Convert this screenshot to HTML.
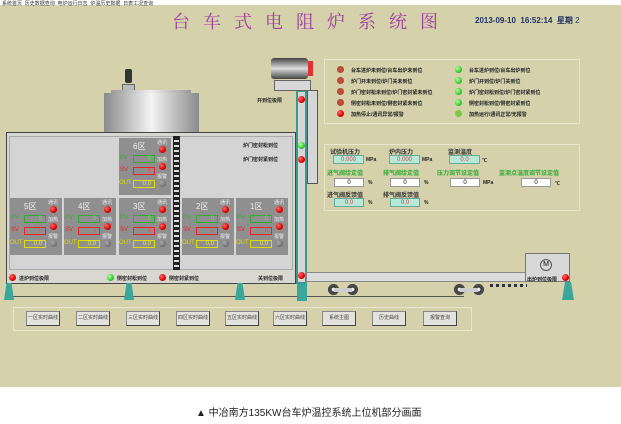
<!DOCTYPE html>
<html><head><meta charset="utf-8"><style>
*{margin:0;padding:0;box-sizing:border-box}
body{width:621px;height:424px;background:#fff;position:relative;overflow:hidden;font-family:"Liberation Sans","Noto Sans CJK SC",sans-serif}
div,span{position:absolute}
.bg{left:0;top:5px;width:621px;height:382px;background:#d4d1ab}
.t{font-size:5px;color:#222;white-space:nowrap;font-weight:bold}
.zone{background:#8f8f8f;width:52px;height:57px}
.zone .n{color:#eee;font-size:8px;left:14px;top:3px}
.zone .l{font-size:5px;color:#eee;left:38px}
.dot{width:7px;height:7px;border-radius:50%}
.r{background:radial-gradient(circle at 35% 35%,#ff6a6a,#d00 60%,#800)}
.g{background:radial-gradient(circle at 35% 35%,#b6ff9a,#3c3 60%,#171)}
.gr{background:radial-gradient(circle at 35% 35%,#aaa,#555)}
.pv,.sv,.out{height:8px;width:22px;font-size:6px;text-align:right;padding-right:3px;line-height:6px}
.pv{border:1px solid #3a3;color:#5e5}
.sv{border:1px solid #e22;color:#f44}
.out{border:1px solid #dd0;color:#ee4}
.btn{top:311px;width:34px;height:15px;background:#e4e2dc;border:1px solid #888;border-right-color:#444;border-bottom-color:#444;font-size:5px;color:#444;text-align:center;line-height:13px}
.leg{width:10px;height:17px;background:#3aa79a;clip-path:polygon(25% 0,75% 0,100% 100%,0 100%)}
.wh{width:11px;height:11px;border-radius:50%;background:radial-gradient(circle,#eee 20%,#333 30%,#555 60%,#222 70%);top:284px}
.sd{font-size:5px;color:#222;font-weight:bold;white-space:nowrap}
.box{background:#b8e8d8;border:1px solid #6a9;height:9px;font-size:6px;color:#c44;text-align:center;line-height:8px}
.wbox{background:#fff;border:1px solid #999;height:9px;font-size:6px;text-align:center;line-height:8px}
.gl{font-size:6px;color:#3a3;font-weight:bold;white-space:nowrap}
.bl{font-size:6px;color:#333;font-weight:bold;white-space:nowrap}
</style></head><body>
<div class="bg"></div>
<div class="t" style="left:2px;top:0;font-weight:normal;color:#333">系统首页 &nbsp;历史数据查询 &nbsp;电炉运行日志 &nbsp;炉温历史数据 &nbsp;日表工况查询</div>
<div style="left:172px;top:8px;font-size:18px;color:#a040a0;letter-spacing:13px;font-family:'Liberation Serif','Noto Serif CJK SC',serif;white-space:nowrap">台车式电阻炉系统图</div>
<div style="left:475px;top:15px;font-size:8px;font-weight:bold;color:#223366;white-space:nowrap">2013-09-10 &nbsp;16:52:14 &nbsp;星期 <span style="position:static;font-weight:normal">2</span></div>

<div style="left:125px;top:69px;width:7px;height:14px;background:#333;border-radius:2px"></div>
<div style="left:122px;top:84px;width:13px;height:8px;background:#bbb;border:1px solid #666"></div>
<div style="left:111px;top:90px;width:80px;height:4px;background:linear-gradient(90deg,#999,#eee,#999)"></div>
<div style="left:104px;top:93px;width:95px;height:40px;background:linear-gradient(90deg,#8a8a8a,#f4f4f4 50%,#8a8a8a)"></div>

<div style="left:6px;top:132px;width:290px;height:152px;background:#d8d8d0;border:1px solid #444"></div>
<div style="left:9px;top:136px;width:284px;height:134px;background:#d4d4d4;border:1px solid #aaa"></div>
<div style="left:173px;top:136px;width:7px;height:134px;background:repeating-linear-gradient(#222 0 3px,#ddd 3px 5px);border:1px solid #222"></div>

<div class="zone" style="left:119px;top:138px"><span class="n">6区</span><span class="l" style="top:1px">通讯</span><span class="dot r" style="left:40px;top:8px"></span><span class="l" style="top:18px">加热</span><span class="dot r" style="left:40px;top:25px"></span><span class="l" style="top:35px">报警</span><span class="dot gr" style="left:40px;top:42px"></span><span style="left:1px;top:17px;font-size:6px;color:#3a3">PV</span><span class="pv" style="left:14px;top:17px">0</span><span style="left:1px;top:29px;font-size:6px;color:#e22">SV</span><span class="sv" style="left:14px;top:29px">0</span><span style="left:0;top:42px;font-size:6px;color:#dd0">OUT</span><span class="out" style="left:14px;top:42px">0.0</span></div>
<div class="zone" style="left:10px;top:198px"><span class="n">5区</span><span class="l" style="top:1px">通讯</span><span class="dot r" style="left:40px;top:8px"></span><span class="l" style="top:18px">加热</span><span class="dot r" style="left:40px;top:25px"></span><span class="l" style="top:35px">报警</span><span class="dot gr" style="left:40px;top:42px"></span><span style="left:1px;top:17px;font-size:6px;color:#3a3">PV</span><span class="pv" style="left:14px;top:17px">0</span><span style="left:1px;top:29px;font-size:6px;color:#e22">SV</span><span class="sv" style="left:14px;top:29px">0</span><span style="left:0;top:42px;font-size:6px;color:#dd0">OUT</span><span class="out" style="left:14px;top:42px">0.0</span></div>
<div class="zone" style="left:64px;top:198px"><span class="n">4区</span><span class="l" style="top:1px">通讯</span><span class="dot r" style="left:40px;top:8px"></span><span class="l" style="top:18px">加热</span><span class="dot r" style="left:40px;top:25px"></span><span class="l" style="top:35px">报警</span><span class="dot gr" style="left:40px;top:42px"></span><span style="left:1px;top:17px;font-size:6px;color:#3a3">PV</span><span class="pv" style="left:14px;top:17px">0</span><span style="left:1px;top:29px;font-size:6px;color:#e22">SV</span><span class="sv" style="left:14px;top:29px">0</span><span style="left:0;top:42px;font-size:6px;color:#dd0">OUT</span><span class="out" style="left:14px;top:42px">0.0</span></div>
<div class="zone" style="left:119px;top:198px"><span class="n">3区</span><span class="l" style="top:1px">通讯</span><span class="dot r" style="left:40px;top:8px"></span><span class="l" style="top:18px">加热</span><span class="dot r" style="left:40px;top:25px"></span><span class="l" style="top:35px">报警</span><span class="dot gr" style="left:40px;top:42px"></span><span style="left:1px;top:17px;font-size:6px;color:#3a3">PV</span><span class="pv" style="left:14px;top:17px">0</span><span style="left:1px;top:29px;font-size:6px;color:#e22">SV</span><span class="sv" style="left:14px;top:29px">0</span><span style="left:0;top:42px;font-size:6px;color:#dd0">OUT</span><span class="out" style="left:14px;top:42px">0.0</span></div>
<div class="zone" style="left:182px;top:198px"><span class="n">2区</span><span class="l" style="top:1px">通讯</span><span class="dot r" style="left:40px;top:8px"></span><span class="l" style="top:18px">加热</span><span class="dot r" style="left:40px;top:25px"></span><span class="l" style="top:35px">报警</span><span class="dot gr" style="left:40px;top:42px"></span><span style="left:1px;top:17px;font-size:6px;color:#3a3">PV</span><span class="pv" style="left:14px;top:17px">0</span><span style="left:1px;top:29px;font-size:6px;color:#e22">SV</span><span class="sv" style="left:14px;top:29px">0</span><span style="left:0;top:42px;font-size:6px;color:#dd0">OUT</span><span class="out" style="left:14px;top:42px">0.0</span></div>
<div class="zone" style="left:236px;top:198px"><span class="n">1区</span><span class="l" style="top:1px">通讯</span><span class="dot r" style="left:40px;top:8px"></span><span class="l" style="top:18px">加热</span><span class="dot r" style="left:40px;top:25px"></span><span class="l" style="top:35px">报警</span><span class="dot gr" style="left:40px;top:42px"></span><span style="left:1px;top:17px;font-size:6px;color:#3a3">PV</span><span class="pv" style="left:14px;top:17px">0</span><span style="left:1px;top:29px;font-size:6px;color:#e22">SV</span><span class="sv" style="left:14px;top:29px">0</span><span style="left:0;top:42px;font-size:6px;color:#dd0">OUT</span><span class="out" style="left:14px;top:42px">0.0</span></div>

<div class="t" style="left:243px;top:142px">炉门密封松到位</div>
<div class="t" style="left:243px;top:156px">炉门密封紧到位</div>
<div class="dot r" style="left:9px;top:274px"></div><div class="t" style="left:19px;top:275px">进炉到位极限</div>
<div class="dot g" style="left:107px;top:274px"></div><div class="t" style="left:117px;top:275px">侧密封松到位</div>
<div class="dot r" style="left:159px;top:274px"></div><div class="t" style="left:169px;top:275px">侧密封紧到位</div>
<div class="t" style="left:258px;top:275px">关到位极限</div>

<div style="left:296px;top:90px;width:11px;height:194px;background:#d6d6d6;border:2px solid #3a9a90"></div>
<div style="left:307px;top:90px;width:11px;height:94px;background:#d6d6d6;border:1px solid #555"></div>
<div class="dot r" style="left:298px;top:96px"></div>
<div class="dot g" style="left:298px;top:142px"></div>
<div class="dot r" style="left:298px;top:156px"></div>
<div class="dot r" style="left:298px;top:272px"></div>
<div class="t" style="left:257px;top:97px">开到位极限</div>
<div style="left:274px;top:80px;width:37px;height:11px;background:#d8d8d8;border:1px solid #666"></div>
<div style="left:271px;top:58px;width:37px;height:21px;background:linear-gradient(#444,#ddd 50%,#444);border-radius:3px"></div>
<div style="left:308px;top:61px;width:5px;height:15px;background:#d33"></div>

<div style="left:324px;top:59px;width:256px;height:65px;border:1px solid #e8e6cc"></div>
<div class="dot r" style="left:337px;top:66px;background:radial-gradient(circle,#e44,#752)"></div><div class="sd" style="left:351px;top:67px">台车进炉未到位/台车出炉未到位</div>
<div class="dot r" style="left:337px;top:77px;background:radial-gradient(circle,#e44,#752)"></div><div class="sd" style="left:351px;top:78px">炉门开未到位/炉门关未到位</div>
<div class="dot r" style="left:337px;top:88px;background:radial-gradient(circle,#e44,#752)"></div><div class="sd" style="left:351px;top:89px">炉门密封松未到位/炉门密封紧未到位</div>
<div class="dot r" style="left:337px;top:99px;background:radial-gradient(circle,#e44,#752)"></div><div class="sd" style="left:351px;top:100px">侧密封松未到位/侧密封紧未到位</div>
<div class="dot r" style="left:337px;top:110px"></div><div class="sd" style="left:351px;top:111px">加热停止/通讯异常/报警</div>
<div class="dot g" style="left:455px;top:66px"></div><div class="sd" style="left:469px;top:67px">台车进炉到位/台车出炉到位</div>
<div class="dot g" style="left:455px;top:77px"></div><div class="sd" style="left:469px;top:78px">炉门开到位/炉门关到位</div>
<div class="dot g" style="left:455px;top:88px"></div><div class="sd" style="left:469px;top:89px">炉门密封松到位/炉门密封紧到位</div>
<div class="dot g" style="left:455px;top:99px"></div><div class="sd" style="left:469px;top:100px">侧密封松到位/侧密封紧到位</div>
<div class="dot g" style="left:455px;top:110px;background:#7c4"></div><div class="sd" style="left:469px;top:111px">加热运行/通讯正常/无报警</div>

<div style="left:324px;top:144px;width:256px;height:67px;border:1px solid #e8e6cc"></div>
<div class="bl" style="left:330px;top:147px">试验机压力</div>
<div class="bl" style="left:389px;top:147px">炉内压力</div>
<div class="bl" style="left:448px;top:147px">监测温度</div>
<div class="box" style="left:333px;top:155px;width:31px">0.000</div><div class="t" style="left:366px;top:157px">MPa</div>
<div class="box" style="left:389px;top:155px;width:31px">0.000</div><div class="t" style="left:422px;top:157px">MPa</div>
<div class="box" style="left:449px;top:155px;width:31px">0.0</div><div class="t" style="left:482px;top:157px">℃</div>
<div class="gl" style="left:327px;top:168px">进气阀给定值</div>
<div class="gl" style="left:383px;top:168px">排气阀给定值</div>
<div class="gl" style="left:437px;top:168px">压力调节设定值</div>
<div class="gl" style="left:499px;top:168px">监测点温度调节设定值</div>
<div class="wbox" style="left:334px;top:178px;width:30px">0</div><div class="t" style="left:368px;top:180px">%</div>
<div class="wbox" style="left:390px;top:178px;width:30px">0</div><div class="t" style="left:424px;top:180px">%</div>
<div class="wbox" style="left:450px;top:178px;width:30px">0</div><div class="t" style="left:483px;top:180px">MPa</div>
<div class="wbox" style="left:521px;top:178px;width:30px">0</div><div class="t" style="left:555px;top:180px">℃</div>
<div class="bl" style="left:327px;top:190px">进气阀反馈值</div>
<div class="bl" style="left:383px;top:190px">排气阀反馈值</div>
<div class="box" style="left:334px;top:198px;width:30px">0.0</div><div class="t" style="left:368px;top:200px">%</div>
<div class="box" style="left:390px;top:198px;width:30px">0.0</div><div class="t" style="left:424px;top:200px">%</div>

<div style="left:306px;top:272px;width:222px;height:10px;background:#dcdcdc;border:1px solid #888"></div>
<div style="left:490px;top:284px;width:37px;height:3px;background:repeating-linear-gradient(90deg,#333 0 3px,#ccc 3px 6px)"></div>
<div style="left:525px;top:253px;width:45px;height:29px;background:#d8d8d8;border:1px solid #777"></div>
<div style="left:540px;top:259px;width:12px;height:12px;border:1px solid #555;border-radius:50%;font-size:7px;text-align:center;line-height:10px">M</div>
<div class="t" style="left:527px;top:276px">出炉到位极限</div>
<div class="dot r" style="left:562px;top:274px"></div>
<div class="wh" style="left:328px"></div><div class="wh" style="left:347px"></div>
<div class="wh" style="left:454px"></div><div class="wh" style="left:473px"></div>
<div style="left:334px;top:288px;width:18px;height:4px;background:#ccc"></div>
<div style="left:460px;top:288px;width:18px;height:4px;background:#ccc"></div>
<div style="left:6px;top:296px;width:458px;height:1px;background:#555"></div>
<div class="leg" style="left:4px;top:283px"></div>
<div class="leg" style="left:124px;top:283px"></div>
<div class="leg" style="left:235px;top:283px"></div>
<div class="leg" style="left:297px;top:284px;width:10px;background:#3aa79a;clip-path:none"></div>
<div class="leg" style="left:562px;top:282px;width:12px;height:18px"></div>

<div style="left:13px;top:307px;width:459px;height:24px;border:1px solid #e8e6cc"></div>
<div class="btn" style="left:26px">一区实时曲线</div>
<div class="btn" style="left:76px">二区实时曲线</div>
<div class="btn" style="left:126px">三区实时曲线</div>
<div class="btn" style="left:176px">四区实时曲线</div>
<div class="btn" style="left:225px">五区实时曲线</div>
<div class="btn" style="left:273px">六区实时曲线</div>
<div class="btn" style="left:322px">系统主图</div>
<div class="btn" style="left:372px">历史曲线</div>
<div class="btn" style="left:423px">报警查询</div>

<div style="left:196px;top:404px;font-size:10px;color:#222;white-space:nowrap">▲ 中冶南方135KW台车炉温控系统上位机部分画面</div>
</body></html>
